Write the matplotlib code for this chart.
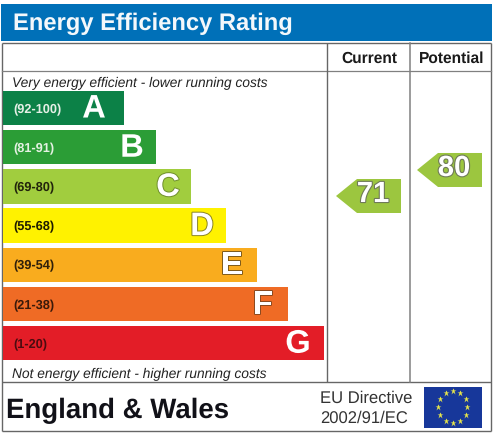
import matplotlib
matplotlib.use("Agg")
import matplotlib.pyplot as plt
import matplotlib.patheffects as pe
from matplotlib.patches import Polygon, Rectangle
import numpy as np

plt.rcParams["font.family"] = ["Liberation Sans", "DejaVu Sans"]
plt.rcParams["text.hinting"] = "none"

bands = ["A", "B", "C", "D", "E", "F", "G"]
ranges = ["(92-100)", "(81-91)", "(69-80)", "(55-68)", "(39-54)", "(21-38)", "(1-20)"]
bar_ends = [124, 156, 191, 226, 257, 288, 324]
bar_colors = ["#0c8147", "#2b9d36", "#a1cd3e", "#fff200", "#f9ac1e", "#ef6b25", "#e31d27"]
range_colors = ["#e4efe6", "#e4f1e2", "#22240c", "#1f1c00", "#30200a", "#3a1a0a", "#4a0c10"]
edge_colors = ["#0c8147", "#2b9d36", "#6f8f2c", "#8a8420", "#7d5a1a", "#8a4a20", "#e31d27"]
letter_insets = [30, 24, 23, 24, 25, 25, 26]
current_rating = 71
potential_rating = 80


def rating_y(rating):
    # the arrows sit on a straight scale between the two readings
    return 196 - (rating - current_rating) * 2.89


def draw_arrow(ax, rating, right):
    y = rating_y(rating)
    points = [(right, y - 17), (right - 44, y - 17), (right - 65, y),
              (right - 44, y + 17), (right, y + 17)]
    ax.add_patch(Polygon(points, closed=True, fc="#9cc63f", ec="none", zorder=3))
    ax.text(right - 28, y - 1.5, str(rating), ha="center", va="center", fontsize=21,
            fontweight="bold", color="white", zorder=4,
            path_effects=[pe.withStroke(linewidth=1.6, foreground="#6f7a58")])


fig = plt.figure(figsize=(5.02, 4.37), dpi=100)
ax = fig.add_axes([0, 0, 1, 1])
ax.set_xlim(0, 502)
ax.set_ylim(437, 0)
ax.axis("off")

# header
ax.add_patch(Rectangle((1, 4), 491, 37, fc="#0070b8", ec="none"))
ax.text(13, 23.5, "Energy Efficiency Rating", ha="left", va="center", fontsize=17.1,
        fontweight="bold", color="#f4f8fb")

# frame
line = dict(color="#666666", lw=1.0, solid_capstyle="butt")
ax.plot([2, 2], [43, 431], **line)
ax.plot([491.5, 491.5], [43, 431], **line)
ax.plot([2, 491.5], [43, 43], **line)
ax.plot([2, 491.5], [71, 71], color="#808080", lw=0.9)
ax.plot([2, 491.5], [382, 382], **line)
ax.plot([2, 491.5], [431, 431], **line)
ax.plot([327.5, 327.5], [43, 382], **line)
ax.plot([410, 410], [43, 382], color="#808080", lw=1.1)

ax.text(369, 62.5, "Current", ha="center", va="baseline", fontsize=11.2, fontweight="bold", color="#1a1a1a")
ax.text(452, 62.5, "Potential", ha="center", va="baseline", fontsize=11.2, fontweight="bold", color="#1a1a1a")

ax.text(12, 83, "Very energy efficient - lower running costs", ha="left", va="center",
        fontsize=9.95, style="italic", color="#222222")
ax.text(12, 374, "Not energy efficient - higher running costs", ha="left", va="center",
        fontsize=9.95, style="italic", color="#222222")

# bands
y_pos = 108 + np.arange(len(bands)) * 39.2
ax.barh(y_pos, np.array(bar_ends) - 3, left=3, height=34.5, color=bar_colors, zorder=2)
for y, end, band, rng, rc, ec, inset in zip(y_pos, bar_ends, bands, ranges, range_colors,
                                            edge_colors, letter_insets):
    ax.text(13, y + 1.5, rng, ha="left", va="center", fontsize=9.2, fontweight="bold", color=rc, zorder=3)
    ax.text(end - inset, y + 1, band, ha="center", va="center", fontsize=23.5, fontweight="bold",
            color="white", zorder=3, path_effects=[pe.withStroke(linewidth=1.4, foreground=ec)])

draw_arrow(ax, current_rating, 401)
draw_arrow(ax, potential_rating, 482)

# footer
ax.text(6, 411, "England & Wales", ha="left", va="center", fontsize=19.9, fontweight="bold", color="#111118")
ax.text(320, 398.5, "EU Directive", ha="left", va="center", fontsize=12, color="#333333")
ax.text(320, 418, "2002/91/EC", ha="left", va="center", fontsize=12, color="#333333")

# flag
ax.add_patch(Rectangle((424, 387), 58, 41, fc="#17379a", ec="none"))
angles = np.deg2rad(np.arange(0, 360, 30))
ax.plot(453 + 14.5 * np.cos(angles), 407 + 16 * np.sin(angles), ls="none", marker="*", ms=5,
        mfc="#e8e64a", mec="none")

fig.savefig("out.png", dpi=100)
